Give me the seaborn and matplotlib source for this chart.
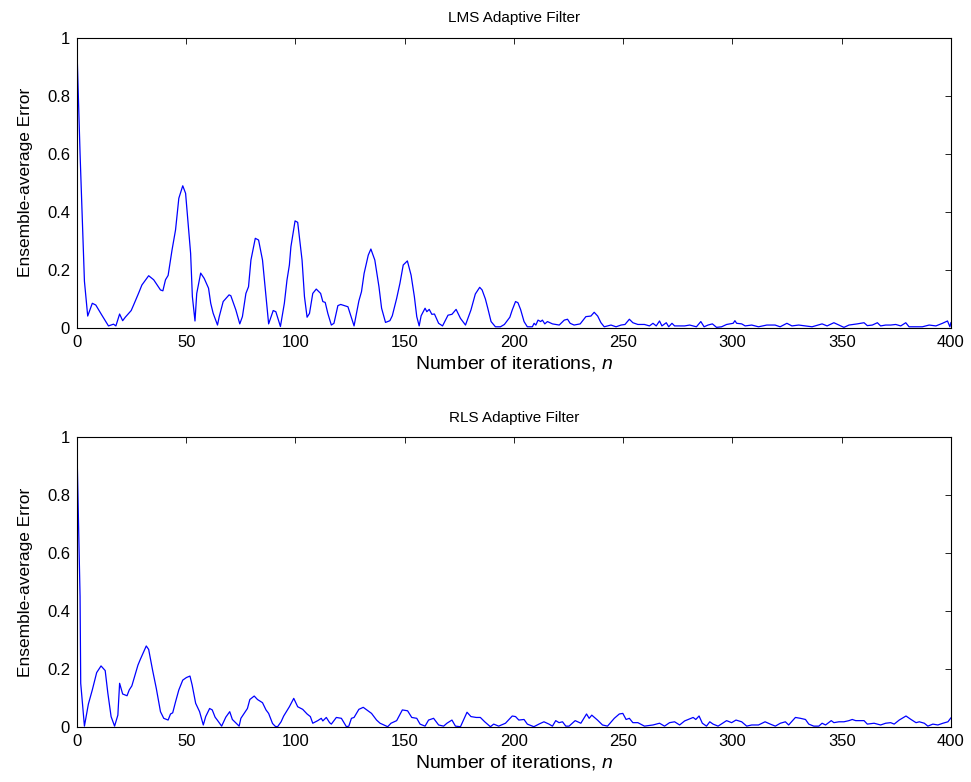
import numpy as np
import pandas as pd
import matplotlib
matplotlib.use("Agg")
import matplotlib.pyplot as plt
import seaborn as sns

# ── Data (iteration n, ensemble-average error) ──
lms_n = [0, 1.4, 2.4, 3.4, 4.9, 7, 8.6, 11.3, 14.4, 16.7, 17.8, 19.5, 20.9, 22.1, 24.8, 25.9,
         28.2, 29.7, 32.8, 35.1, 38.2, 39.3, 40.5, 41.7, 43.5, 45.1, 46.6, 48.4, 49.7, 52, 52.8,
         54, 54.8, 56.6, 58.2, 60.2, 61.2, 62.3, 64.3, 65.1, 66.9, 69.6, 70.4, 72.7, 74.5, 75.7,
         77.3, 78.5, 79.6, 81.6, 83.1, 84.9, 87.7, 89.8, 91, 93.1, 94.9, 96.1, 97.2, 97.9, 99.8,
         101, 103, 104.1, 105.3, 106.4, 107.9, 109.5, 111.5, 112.5, 113.6, 114.8, 116.4, 117.6,
         119.4, 120.7, 124, 126.8, 129, 130.2, 131.4, 133.3, 134.5, 136.3, 138.2, 139.4, 141.2,
         143.2, 144.3, 146.3, 147.8, 149.3, 151.2, 152.9, 154.4, 155.5, 156.6, 157.5, 159.3,
         160.1, 161.2, 162.4, 163.6, 165.5, 167.3, 169.8, 171.6, 173.5, 175.5, 177.8, 180.3,
         182.3, 184.3, 185.4, 186.9, 188, 189.5, 191.5, 193.8, 195.6, 196.9, 198.1, 199.2,
         200.7, 201.8, 203, 204.6, 206.1, 208.4, 209.2, 210, 211, 212.2, 213, 214.1, 215.3,
         217.6, 220.7, 223, 224.5, 225.7, 227.5, 230.3, 232.9, 235.2, 236.7, 238.3, 239.8,
         241.3, 244.4, 246.7, 249, 250.8, 252.8, 254.4, 256.7, 259.7, 262, 263.6, 265.1, 266.6,
         267.7, 269.7, 270.8, 272.3, 273.5, 278.1, 280.4, 283.5, 285.5, 287, 288.8, 290.8,
         292.7, 295, 297.3, 300.3, 301.1, 301.9, 304.2, 305.8, 308.8, 311.9, 315.7, 319.5,
         321.8, 324.9, 327.2, 330.3, 333.3, 336.4, 341, 343.3, 346.4, 348.7, 351, 353.3, 357.1,
         360.2, 361.7, 364, 366.3, 367.8, 370.1, 372.4, 374.7, 377, 379.3, 380.8, 383.9, 386.9,
         390, 393.1, 396.1, 398.4, 399.5, 400]
lms_err = [0.955, 0.60, 0.38, 0.16, 0.04, 0.084, 0.078, 0.044, 0.006, 0.012, 0.006, 0.047, 0.024,
           0.036, 0.059, 0.078, 0.119, 0.147, 0.179, 0.165, 0.130, 0.127, 0.165, 0.18, 0.268,
           0.337, 0.446, 0.489, 0.463, 0.256, 0.107, 0.023, 0.118, 0.188, 0.17, 0.136, 0.084,
           0.05, 0.009, 0.038, 0.09, 0.113, 0.11, 0.061, 0.013, 0.038, 0.118, 0.141, 0.233,
           0.308, 0.302, 0.233, 0.013, 0.059, 0.055, 0.004, 0.084, 0.164, 0.216, 0.279, 0.368,
           0.363, 0.233, 0.107, 0.036, 0.049, 0.118, 0.133, 0.118, 0.09, 0.087, 0.049, 0.009,
           0.015, 0.076, 0.08, 0.072, 0.006, 0.092, 0.124, 0.187, 0.25, 0.271, 0.233, 0.141,
           0.067, 0.018, 0.024, 0.041, 0.101, 0.153, 0.216, 0.23, 0.181, 0.107, 0.038, 0.006,
           0.041, 0.067, 0.055, 0.063, 0.046, 0.047, 0.015, 0.006, 0.043, 0.046, 0.063, 0.032,
           0.009, 0.061, 0.116, 0.139, 0.13, 0.099, 0.067, 0.021, 0.003, 0.003, 0.011, 0.024,
           0.036, 0.061, 0.09, 0.086, 0.063, 0.021, 0.003, 0.003, 0.015, 0.009, 0.026, 0.021,
           0.026, 0.013, 0.021, 0.013, 0.009, 0.026, 0.029, 0.015, 0.009, 0.013, 0.038, 0.04,
           0.053, 0.04, 0.017, 0.003, 0.009, 0.003, 0.009, 0.011, 0.029, 0.017, 0.011, 0.011,
           0.006, 0.015, 0.006, 0.023, 0.006, 0.017, 0.003, 0.015, 0.006, 0.006, 0.009, 0.003,
           0.021, 0.003, 0.009, 0.013, 0.001, 0.003, 0.011, 0.015, 0.024, 0.015, 0.013, 0.006,
           0.009, 0.003, 0.009, 0.009, 0.003, 0.015, 0.006, 0.009, 0.006, 0.003, 0.013, 0.006,
           0.017, 0.009, 0.001, 0.009, 0.013, 0.017, 0.007, 0.009, 0.017, 0.006, 0.009, 0.009,
           0.011, 0.006, 0.017, 0.003, 0.003, 0.003, 0.009, 0.006, 0.015, 0.023, 0.003, 0.018]

rls_n = [0, 1.4, 1.7, 3.4, 5.2, 7, 9, 11, 12.9, 14.1, 15.6, 17.2, 18.7, 19.5, 20.9, 22.9, 23.9,
         25.1, 26.4, 27.9, 29, 30.5, 31.7, 32.8, 34.6, 36.3, 38.2, 39.7, 41.7, 42.8, 43.8, 45.1,
         46.6, 48.4, 50.1, 51.7, 52.7, 54.3, 56.1, 57.8, 58.9, 60.7, 61.9, 63.2, 64.2, 66.2,
         68.1, 69.9, 71.1, 74.2, 75, 78, 79.1, 81.1, 82.6, 84.9, 86.5, 87.7, 89.5, 90.8, 91.8,
         93.4, 94.6, 97.2, 99.2, 101, 103.3, 105.3, 106.8, 107.9, 110.2, 111.8, 112.5, 114.1,
         115.6, 116.4, 118.7, 121, 123.3, 124.4, 125.6, 126.8, 129, 131, 133.3, 134.8, 137.1,
         138.7, 142.2, 143.7, 146.3, 148.9, 151.3, 153.2, 155.5, 157, 159.3, 160.9, 163.2,
         165.5, 167.8, 169.3, 171.6, 173.2, 175.5, 178.5, 180.3, 182.7, 184.6, 186.6, 189.2,
         190.7, 193, 196.1, 199.2, 200.7, 202.2, 204.6, 206.1, 209.1, 211.4, 213.7, 216, 217.6,
         219.1, 220.6, 222.2, 223.7, 225.2, 228, 230.6, 233.2, 234.4, 235.6, 238.2, 240.5,
         242.8, 245.9, 248.2, 249.8, 251.3, 252.8, 254.4, 256.7, 259.7, 263.6, 266.6, 268.9,
         271.2, 273.5, 275.8, 278.1, 282, 283.2, 284.7, 286.2, 288.1, 289.6, 291.1, 293.4,
         297.3, 299.6, 301.6, 304.2, 306.5, 308.8, 311.9, 314.9, 317.3, 319.6, 321.9, 324.2,
         325.7, 328.8, 331.1, 333.4, 334.9, 337.2, 339.5, 341, 342.6, 345.2, 346.4, 348.7, 351,
         353.3, 354.8, 356.4, 360.2, 361.7, 364.8, 367.8, 370.1, 372.4, 374, 376.3, 379.4,
         381.7, 384, 385.5, 387.8, 389.4, 391.7, 394, 396.3, 398.6, 400]
rls_err = [0.956, 0.45, 0.15, 0.002, 0.078, 0.127, 0.187, 0.21, 0.194, 0.117, 0.035, 0.002, 0.04,
           0.15, 0.113, 0.107, 0.127, 0.141, 0.174, 0.213, 0.233, 0.259, 0.279, 0.267, 0.195,
           0.132, 0.052, 0.029, 0.023, 0.044, 0.048, 0.086, 0.127, 0.161, 0.17, 0.175, 0.144,
           0.081, 0.052, 0.006, 0.035, 0.063, 0.058, 0.033, 0.023, 0.002, 0.033, 0.052, 0.025,
           0.002, 0.029, 0.063, 0.094, 0.106, 0.094, 0.083, 0.058, 0.046, 0.011, 0.001, 0.0,
           0.017, 0.037, 0.069, 0.098, 0.069, 0.06, 0.044, 0.035, 0.012, 0.021, 0.029, 0.02,
           0.032, 0.014, 0.009, 0.032, 0.029, 0.0, 0.002, 0.029, 0.032, 0.06, 0.067, 0.054,
           0.046, 0.023, 0.012, 0.0, 0.012, 0.021, 0.058, 0.055, 0.032, 0.029, 0.009, 0.002,
           0.023, 0.029, 0.006, 0.002, 0.012, 0.023, 0.002, 0.0, 0.05, 0.035, 0.032, 0.032,
           0.017, 0.0, 0.009, 0.002, 0.012, 0.037, 0.035, 0.023, 0.025, 0.009, 0.0, 0.009,
           0.017, 0.009, 0.002, 0.021, 0.014, 0.017, 0.002, 0.002, 0.021, 0.012, 0.044, 0.029,
           0.04, 0.023, 0.006, 0.002, 0.029, 0.044, 0.046, 0.025, 0.029, 0.014, 0.014, 0.002,
           0.006, 0.012, 0.002, 0.014, 0.017, 0.006, 0.02, 0.032, 0.025, 0.037, 0.012, 0.002,
           0.017, 0.009, 0.002, 0.021, 0.014, 0.023, 0.017, 0.002, 0.006, 0.006, 0.017, 0.009,
           0.002, 0.012, 0.017, 0.006, 0.032, 0.029, 0.025, 0.009, 0.002, 0.002, 0.012, 0.006,
           0.021, 0.014, 0.017, 0.017, 0.021, 0.025, 0.021, 0.021, 0.009, 0.012, 0.006, 0.012,
           0.014, 0.009, 0.023, 0.037, 0.025, 0.014, 0.017, 0.012, 0.002, 0.009, 0.006, 0.012,
           0.017, 0.031]

titles = ["LMS Adaptive Filter", "RLS Adaptive Filter"]
x_ticks = [0, 50, 100, 150, 200, 250, 300, 350, 400]
y_ticks = [0, 0.2, 0.4, 0.6, 0.8, 1]
y_tick_labels = ["0", "0.2", "0.4", "0.6", "0.8", "1"]

sns.set_style("white")
plt.rcParams["font.family"] = ["Liberation Sans", "DejaVu Sans"]
plt.rcParams["mathtext.fontset"] = "custom"
plt.rcParams["mathtext.it"] = "Liberation Sans:italic"
plt.rcParams["mathtext.rm"] = "Liberation Sans"
for key in ["text.color", "axes.labelcolor", "xtick.color", "ytick.color"]:
    plt.rcParams[key] = "black"

fig = plt.figure(figsize=(9.71, 7.82), dpi=100)
ax_top = fig.add_axes([0.0793, 0.581, 0.9001, 0.371])
ax_bot = fig.add_axes([0.0793, 0.0707, 0.9001, 0.3701])

series = [(lms_n, lms_err), (rls_n, rls_err)]
for ax, (n, err), title in zip([ax_top, ax_bot], series, titles):
    df = pd.DataFrame({"n": n, "err": err})
    sns.lineplot(data=df, x="n", y="err", ax=ax, color="#0000ff",
                 linewidth=0.9, estimator=None, sort=False)
    ax.set_xlim(0, 400)
    ax.set_ylim(0, 1)
    ax.set_xticks(x_ticks)
    ax.set_yticks(y_ticks)
    ax.set_yticklabels(y_tick_labels)
    ax.set_title(title, fontsize=11, pad=11, color="black")
    ax.set_xlabel("Number of iterations, $n$", fontsize=14, labelpad=3)
    ax.set_ylabel("Ensemble-average Error", fontsize=12.5, labelpad=10)
    ax.tick_params(direction="in", length=4, width=0.6, labelsize=12,
                   colors="black", top=True, right=True, pad=5)
    for sp in ax.spines.values():
        sp.set_visible(True)
        sp.set_color("black")
        sp.set_linewidth(0.8)

fig.savefig("out.png", dpi=100)
